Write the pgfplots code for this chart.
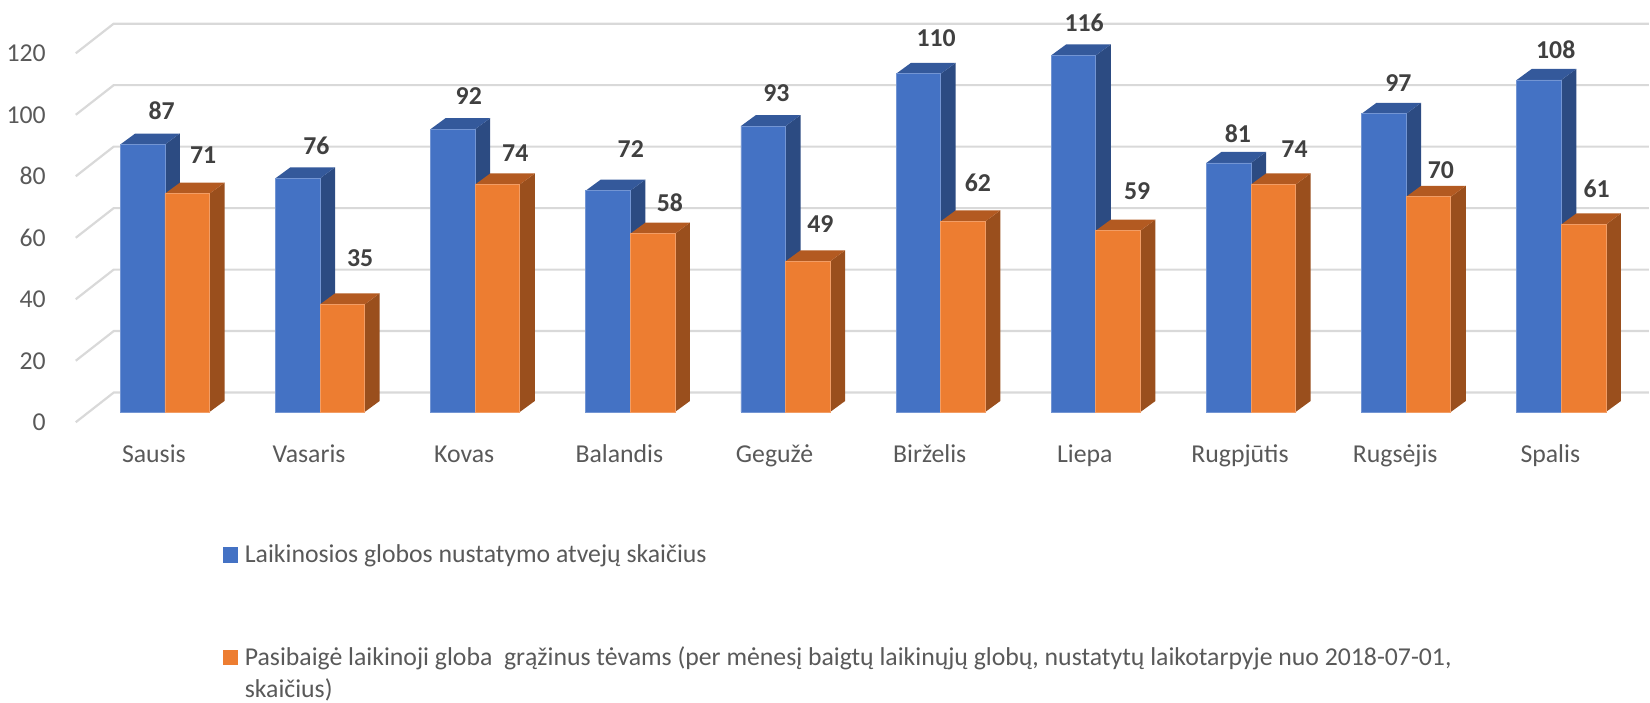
\documentclass[border=0pt]{standalone}
\usepackage{pgfplots}
\pgfplotsset{compat=1.18}
\usepackage{pgfplotstable}
\usepackage{fontspec}
\setmainfont{Carlito}
\definecolor{bfront}{HTML}{4472C4}
\definecolor{bside}{HTML}{2C4B82}
\definecolor{btop}{HTML}{34599B}
\definecolor{ofront}{HTML}{ED7D31}
\definecolor{oside}{HTML}{9A4F1D}
\definecolor{otop}{HTML}{B35A21}
\definecolor{gridc}{HTML}{D9D9D9}
\definecolor{txt}{HTML}{595959}
\definecolor{lbl}{HTML}{404040}
\newcommand\tf{\fontsize{12.9bp}{15.5bp}\selectfont}

\pgfplotstableread{
x blue orange
0 87 71
1 76 35
2 92 74
3 72 58
4 93 49
5 110 62
6 116 59
7 81 74
8 97 70
9 108 61
}\data

\pgfplotstableread{
lx ly v
-0.0212 97.95 87
0.9759 86.69 76
1.9582 102.60 92
3.0023 85.62 72
3.9415 103.70 93
4.9707 121.56 110
5.9247 126.62 116
6.9154 90.39 81
7.9492 107.14 97
8.9637 117.99 108
}\bluelab

\pgfplotstableread{
lx ly v
0.2470 83.44 71
1.2589 50.13 35
2.2580 84.22 74
3.2551 67.99 58
4.2245 61.27 49
5.2390 74.68 62
6.2657 71.98 59
7.2802 85.52 74
8.2239 78.80 70
9.2274 72.53 61
}\orangelab

\begin{document}
\begin{tikzpicture}
\begin{axis}[
  x=77.725bp, y=1.54bp,
  xmin=-1.0505, xmax=9.5642, ymin=-94.58, ymax=134.0,
  hide axis, clip=false,
]
\path (axis cs:-1.0505,134.0) rectangle (axis cs:9.5642,-94.58);
% back wall grid + floor diagonals + tick labels
\pgfplotsforeachungrouped \v in {0,20,40,60,80,100,120}{%
  \pgfmathsetmacro\ya{\v-3.344}%
  \pgfmathsetmacro\yb{\v+6.30}%
  \pgfmathsetmacro\yt{\v-6.17}%
  \edef\temp{%
    \noexpand\addplot[gridc, line width=1.1bp] coordinates {(-0.5746,\ya) (-0.3300,\yb) (9.5642,\yb)};
    \noexpand\node[anchor=base east, text=txt, font=\noexpand\tf] at (axis cs:-0.7224,\yt) {\v};
  }\temp
}
% blue depth faces
\pgfplotsforeachungrouped \i in {0,...,9}{%
  \pgfplotstablegetelem{\i}{blue}\of\data\let\val\pgfplotsretval
  \pgfmathsetmacro\xl{\i-0.2876}%
  \pgfmathsetmacro\xlb{\i-0.2876+0.0965}%
  \pgfmathsetmacro\xrb{\i+0.0965}%
  \pgfmathsetmacro\yt{\val+3.571}%
  \edef\temp{%
    \noexpand\addplot[fill=bside, draw=none] coordinates {(\i,0) (\xrb,3.571) (\xrb,\yt) (\i,\val) (\i,0)};
    \noexpand\addplot[fill=btop, draw=none] coordinates {(\xl,\val) (\xlb,\yt) (\xrb,\yt) (\i,\val) (\xl,\val)};
  }\temp
}
\addplot[ybar, bar width=22.35bp, bar shift=-11.175bp, fill=bfront, draw=bfront!75!white, line width=0.4bp] table[x=x,y=blue]{\data};
% orange depth faces
\pgfplotsforeachungrouped \i in {0,...,9}{%
  \pgfplotstablegetelem{\i}{orange}\of\data\let\val\pgfplotsretval
  \pgfmathsetmacro\xr{\i+0.2876}%
  \pgfmathsetmacro\xlb{\i+0.0965}%
  \pgfmathsetmacro\xrb{\i+0.2876+0.0965}%
  \pgfmathsetmacro\yt{\val+3.571}%
  \edef\temp{%
    \noexpand\addplot[fill=oside, draw=none] coordinates {(\xr,0) (\xrb,3.571) (\xrb,\yt) (\xr,\val) (\xr,0)};
    \noexpand\addplot[fill=otop, draw=none] coordinates {(\i,\val) (\xlb,\yt) (\xrb,\yt) (\xr,\val) (\i,\val)};
  }\temp
}
\addplot[ybar, bar width=22.35bp, bar shift=11.175bp, fill=ofront, draw=ofront!75!white, line width=0.4bp] table[x=x,y=orange]{\data};
% value labels
\addplot[draw=none, no markers, point meta=explicit symbolic, nodes near coords,
  every node near coord/.append style={anchor=center, font=\bfseries\tf, text=lbl}]
  table[x=lx, y=ly, meta=v]{\bluelab};
\addplot[draw=none, no markers, point meta=explicit symbolic, nodes near coords,
  every node near coord/.append style={anchor=center, font=\bfseries\tf, text=lbl}]
  table[x=lx, y=ly, meta=v]{\orangelab};
% category labels
\foreach \n/\name in {0/Sausis,1/Vasaris,2/Kovas,3/Balandis,4/Gegužė,5/Birželis,6/Liepa,7/Rugpjūtis,8/Rugsėjis,9/Spalis}{%
  \edef\temp{\noexpand\node[anchor=base, text=txt, font=\noexpand\tf] at (axis cs:\n-0.071,-16.43) {\name};}\temp
}
% legend
\fill[bfront] (axis cs:0.3776,-43.93) rectangle (axis cs:0.4741,-49.12);
\node[anchor=base west, text=txt, font=\tf, inner sep=0pt] at (axis cs:0.5127,-49.12) {Laikinosios globos nustatymo atvejų skaičius};
\fill[ofront] (axis cs:0.3776,-77.57) rectangle (axis cs:0.4741,-82.47);
\node[anchor=base west, text=txt, font=\tf, inner sep=0pt] at (axis cs:0.5127,-82.47) {Pasibaigė laikinoji globa\ \ grąžinus tėvams (per mėnesį baigtų laikinųjų globų, nustatytų laikotarpyje nuo 2018-07-01,};
\node[anchor=base west, text=txt, font=\tf, inner sep=0pt] at (axis cs:0.5127,-93.0) {skaičius)};
\end{axis}
\end{tikzpicture}
\end{document}
